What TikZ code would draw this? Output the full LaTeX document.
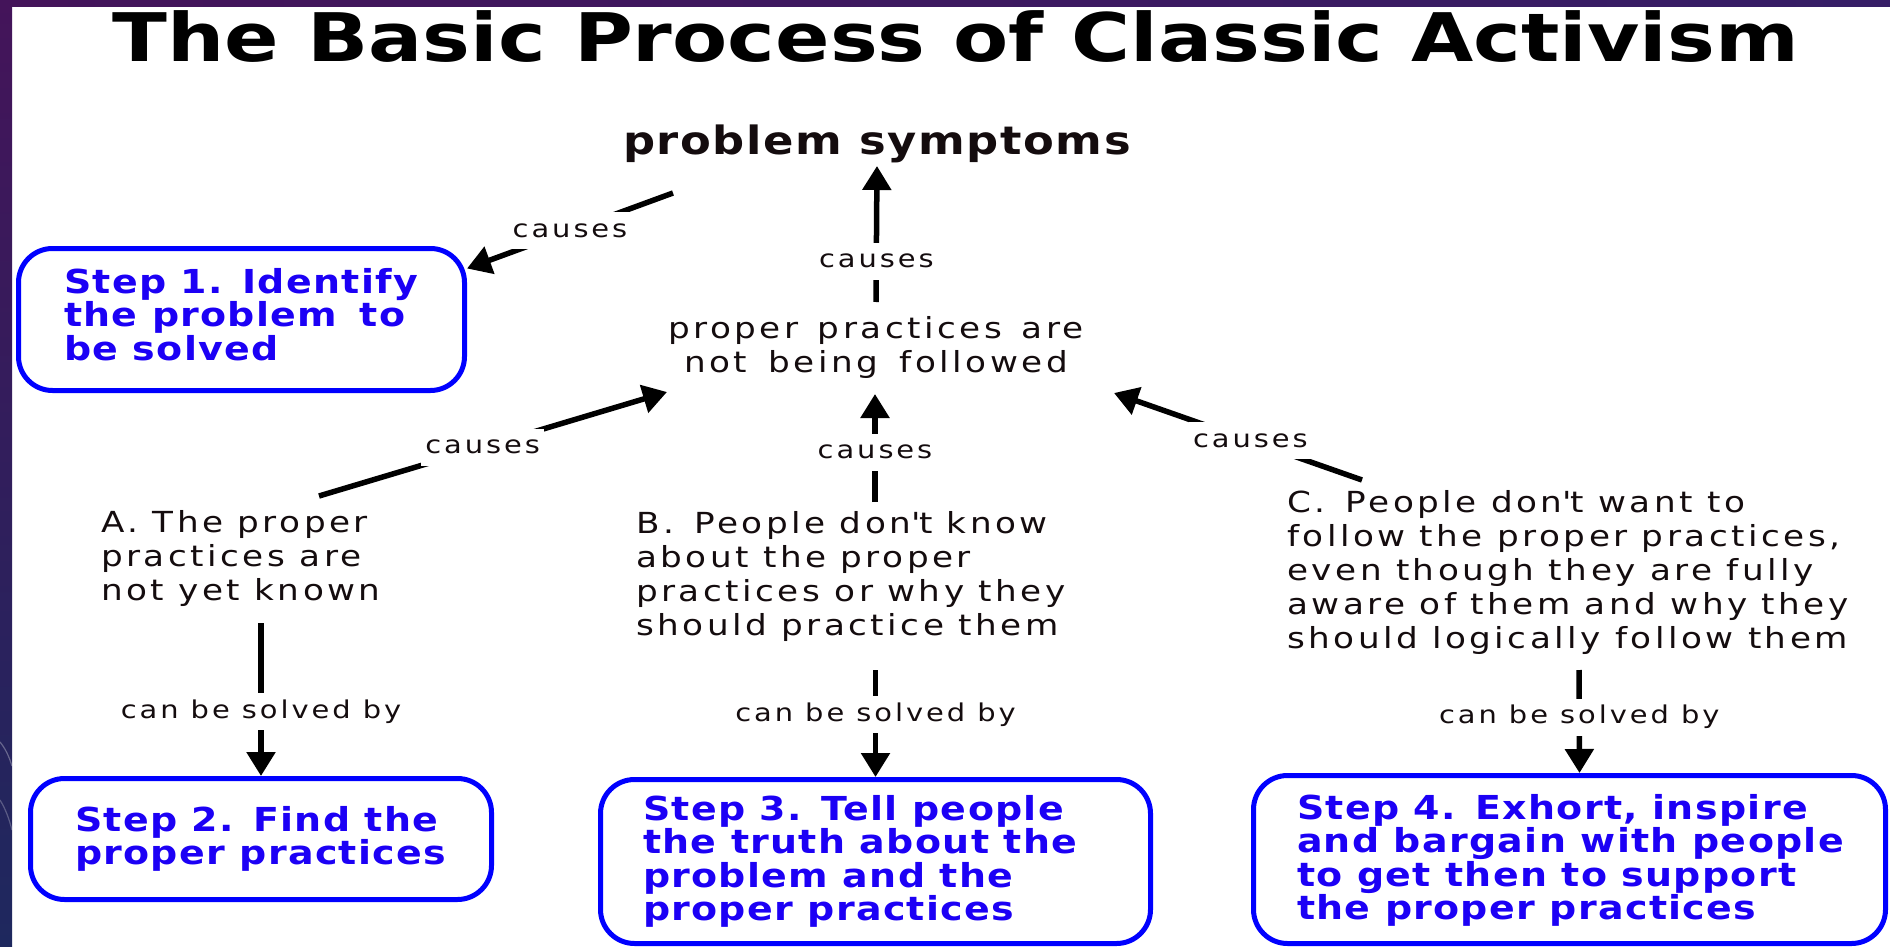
\documentclass[tikz,border=0pt]{standalone}
\usepackage{fontspec}
\usetikzlibrary{arrows.meta,calc}
\newfontfamily\rfont{DejaVu Sans}[FakeStretch=1.18,LetterSpace=12]
\newfontfamily\bfont{DejaVu Sans}[FakeStretch=1.15,LetterSpace=4]
\newfontfamily\tfont{DejaVu Sans}[FakeStretch=1.2]
\definecolor{boxblue}{RGB}{0,0,255}
\definecolor{txtblue}{RGB}{28,0,245}
\definecolor{ink}{RGB}{20,12,14}
\definecolor{slideA}{RGB}{68,20,90}
\definecolor{slideB}{RGB}{30,40,94}
\definecolor{slideC}{RGB}{54,30,102}
\begin{document}
\begin{tikzpicture}[x=1pt,y=-1pt,
  natural spaces/.style={execute at begin node={\spaceskip=0pt\xspaceskip=0pt}},
  plain/.style={inner sep=0pt, text=ink, natural spaces, font=\rfont\fontsize{29}{34}\selectfont},
  stepbox/.style={draw=boxblue, line width=5pt, rounded corners=34pt, inner sep=0pt, text=txtblue, align=left, natural spaces, text height=25pt, font=\bfont\bfseries\fontsize{33}{33.5}\selectfont},
  conn/.style={draw=black, line width=5.5pt, -{Triangle[length=24pt,width=28pt]}},
  lbl/.style={fill=white, inner xsep=4pt, inner ysep=7pt, text=ink, text height=18pt, text depth=5pt, font=\rfont\fontsize{24.5}{28}\selectfont}
]
\useasboundingbox (0,0) rectangle (1890,947);
\fill[white] (0,0) rectangle (1890,947);
\shade[top color=slideA, bottom color=slideB] (0,0) rectangle (12,947);
\shade[left color=slideA, right color=slideC] (0,0) rectangle (1890,7);
\draw[white, opacity=0.3, line width=1.2pt] (0,742) .. controls (5,748) and (9,756) .. (12,766);
\draw[white, opacity=0.25, line width=1.2pt] (0,800) .. controls (5,808) and (9,818) .. (12,830);

\node[anchor=base, inner sep=0pt, text=black, font=\tfont\bfseries\fontsize{67}{70}\selectfont] (title) at (956,62) {The Basic Process of Classic Activism};

\node[plain, anchor=base, font=\bfont\bfseries\fontsize{39}{42}\selectfont] (symp) at (877,154) {problem symptoms};
\node[plain, anchor=base, align=center, text width=500pt] (pp) at (876,338) {proper practices are\\not being followed};
\node[plain, anchor=base west, align=left, text width=400pt] (A) at (101,532) {A. The proper\\practices are\\not yet known};
\node[plain, anchor=base west, align=left, text width=500pt] (B) at (636,533) {B.\hspace{6pt} People don\textquotesingle t know\\about the proper\\practices or why they\\should practice them};
\node[plain, anchor=base west, align=left, text width=600pt] (C) at (1287,512) {C.\hspace{6pt} People don\textquotesingle t want to\\follow the proper practices,\\even though they are fully\\aware of them and why they\\should logically follow them};

\node[stepbox, minimum width=446pt, minimum height=142pt, text width=355pt, text depth=78pt] (step1) at (241.5,319.5) {\mbox{Step 1. Identify}\\\mbox{the problem\hspace{8pt} to}\\\mbox{be solved}};
\node[stepbox, minimum width=461pt, minimum height=121pt, text width=372pt, text depth=41pt] (step2) at (261,839) {\mbox{Step 2. Find the}\\\mbox{proper practices}};
\node[stepbox, minimum width=550pt, minimum height=164pt, text width=465pt, text depth=108pt] (step3) at (875.5,861.5) {\mbox{Step 3. Tell people}\\\mbox{the truth about the}\\\mbox{problem and the}\\\mbox{proper practices}};
\node[stepbox, minimum width=632pt, minimum height=168pt, text width=545pt, text depth=106pt] (step4) at (1569.5,859.5) {\mbox{Step 4. Exhort, inspire}\\\mbox{and bargain with people}\\\mbox{to get then to support}\\\mbox{the proper practices}};

\draw[conn] ([shift={(-204,39)}]symp.base) -- node[lbl,midway]{causes} ([shift={(0,-51)}]step1.east);
\draw[conn] ([shift={(0,-36)}]pp.base) -- node[lbl,pos=.3]{causes} ([shift={(0,12)}]symp.base);
\draw[conn] ([shift={(218,-36)}]A.base west) -- node[lbl,pos=.47]{causes} ([shift={(-209,54)}]pp.base);
\draw[conn] ([shift={(239,-31)}]B.base west) -- node[lbl,pos=.46]{causes} ([shift={(-1,56)}]pp.base);
\draw[conn] ([shift={(75,-32)}]C.base west) -- node[lbl,pos=.45]{causes} ([shift={(238,55)}]pp.base);
\draw[conn] ([shift={(160,91)}]A.base west) -- node[lbl,pos=.58]{can be solved by} (step2.north);
\draw[conn] ([shift={(239.5,137)}]B.base west) -- node[lbl,pos=.42]{can be solved by} (step3.north);
\draw[conn] ([shift={(292,158)}]C.base west) -- node[lbl,pos=.46]{can be solved by} ([shift={(10,0)}]step4.north);
\end{tikzpicture}
\end{document}
